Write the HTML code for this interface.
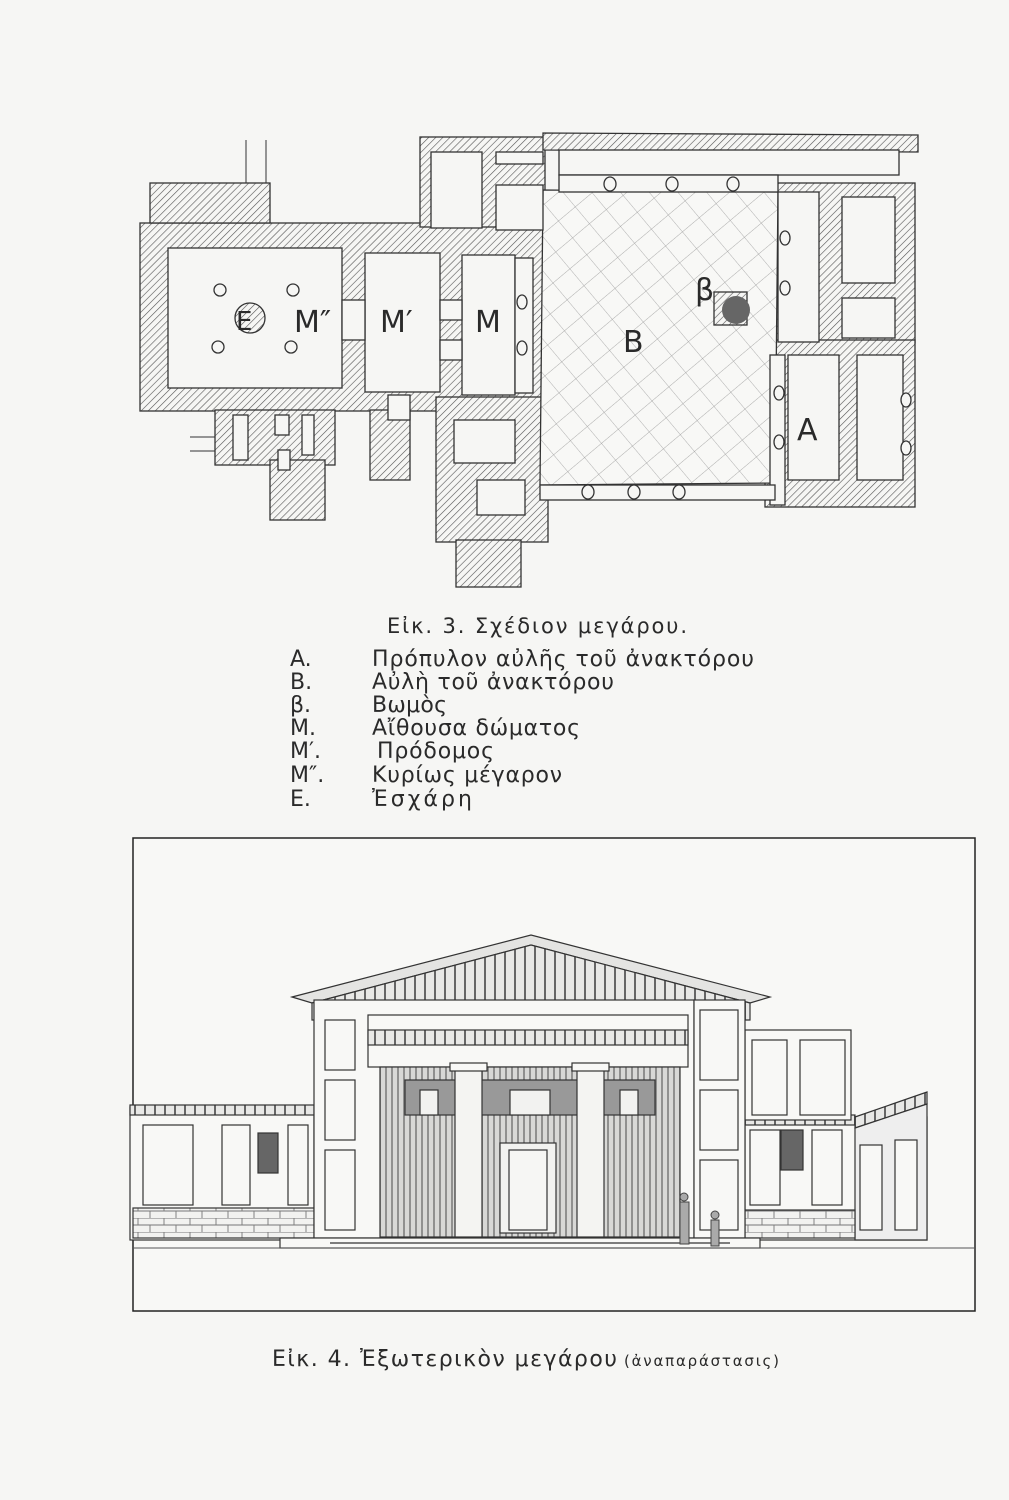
<!DOCTYPE html>
<html><head><meta charset="utf-8"><style>
html,body{margin:0;padding:0;background:#f6f6f4;}
svg{display:block}
text{font-family:"DejaVu Sans","Liberation Sans",sans-serif;fill:#2a2a2a}
</style></head><body>
<svg width="1009" height="1500" viewBox="0 0 1009 1500" xmlns="http://www.w3.org/2000/svg">
<defs>
<pattern id="h" width="5" height="5" patternUnits="userSpaceOnUse" patternTransform="rotate(45)">
<rect width="5" height="5" fill="#f6f6f4"/><line x1="0" y1="0" x2="0" y2="5" stroke="#555" stroke-width="1.2"/></pattern>
<pattern id="x" width="22" height="22" patternUnits="userSpaceOnUse" patternTransform="rotate(50)">
<rect width="22" height="22" fill="#f8f8f6"/><path d="M0 0H22M0 0V22" stroke="#999" stroke-width="0.8"/></pattern>
<pattern id="v" width="6" height="40" patternUnits="userSpaceOnUse">
<rect width="6" height="40" fill="#d8d8d6"/><line x1="2" y1="0" x2="2" y2="40" stroke="#777" stroke-width="1.5"/></pattern>
<pattern id="st" width="26" height="14" patternUnits="userSpaceOnUse">
<rect width="26" height="14" fill="#f2f2f0"/><path d="M0 0H26M0 7H26M8 0V7M20 7V14" stroke="#777" stroke-width="0.9"/></pattern>
<pattern id="r" width="10" height="10" patternUnits="userSpaceOnUse">
<rect width="10" height="10" fill="#e8e8e6"/><line x1="5" y1="0" x2="5" y2="10" stroke="#666" stroke-width="2"/></pattern>
</defs>
<rect width="1009" height="1500" fill="#f6f6f4"/>
<g stroke="#333" stroke-width="1.3">
<rect x="140" y="223" width="405" height="188" fill="url(#h)"/>
<rect x="150" y="183" width="120" height="40" fill="url(#h)"/>
<rect x="420" y="137" width="125" height="90" fill="url(#h)"/>
<polygon points="543,133 918,135 918,152 543,150" fill="url(#h)"/>
<rect x="775" y="183" width="140" height="160" fill="url(#h)"/>
<rect x="765" y="340" width="150" height="167" fill="url(#h)"/>
<rect x="436" y="397" width="112" height="145" fill="url(#h)"/>
<rect x="456" y="540" width="65" height="47" fill="url(#h)"/>
<rect x="215" y="410" width="120" height="55" fill="url(#h)"/>
<rect x="270" y="460" width="55" height="60" fill="url(#h)"/>
<rect x="370" y="410" width="40" height="70" fill="url(#h)"/>
<polygon points="543,190 778,192 775,483 540,485" fill="url(#x)"/>
<g fill="#f6f6f4">
<rect x="168" y="248" width="174" height="140"/>
<rect x="365" y="253" width="75" height="139"/>
<rect x="462" y="255" width="53" height="140"/>
<rect x="515" y="258" width="18" height="135"/>
<rect x="440" y="300" width="22" height="20"/>
<rect x="440" y="340" width="22" height="20"/>
<rect x="342" y="300" width="23" height="40"/>
<rect x="431" y="152" width="51" height="76"/>
<rect x="496" y="152" width="47" height="12"/>
<rect x="496" y="185" width="47" height="45"/>
<rect x="559" y="150" width="340" height="25"/>
<rect x="559" y="175" width="219" height="17"/>
<rect x="778" y="192" width="41" height="150"/>
<rect x="842" y="197" width="53" height="86"/>
<rect x="842" y="298" width="53" height="40"/>
<rect x="788" y="355" width="51" height="125"/>
<rect x="770" y="355" width="15" height="150"/>
<rect x="857" y="355" width="46" height="125"/>
<rect x="454" y="420" width="61" height="43"/>
<rect x="477" y="480" width="48" height="35"/>
<rect x="540" y="485" width="235" height="15"/>
<rect x="388" y="395" width="22" height="25"/>
<rect x="233" y="415" width="15" height="45"/>
<rect x="275" y="415" width="14" height="20"/>
<rect x="302" y="415" width="12" height="40"/>
<rect x="278" y="450" width="12" height="20"/>
</g>
<g fill="#f6f6f4">
<ellipse cx="610" cy="184" rx="6" ry="7"/><ellipse cx="672" cy="184" rx="6" ry="7"/><ellipse cx="733" cy="184" rx="6" ry="7"/>
<ellipse cx="588" cy="492" rx="6" ry="7"/><ellipse cx="634" cy="492" rx="6" ry="7"/><ellipse cx="679" cy="492" rx="6" ry="7"/>
<ellipse cx="785" cy="238" rx="5" ry="7"/><ellipse cx="785" cy="288" rx="5" ry="7"/>
<ellipse cx="779" cy="393" rx="5" ry="7"/><ellipse cx="779" cy="442" rx="5" ry="7"/>
<ellipse cx="906" cy="400" rx="5" ry="7"/><ellipse cx="906" cy="448" rx="5" ry="7"/>
<ellipse cx="522" cy="302" rx="5" ry="7"/><ellipse cx="522" cy="348" rx="5" ry="7"/>
<circle cx="220" cy="290" r="6"/><circle cx="293" cy="290" r="6"/><circle cx="218" cy="347" r="6"/><circle cx="291" cy="347" r="6"/>
<circle cx="250" cy="318" r="15" fill="url(#h)"/>
</g>
<rect x="714" y="292" width="33" height="33" fill="url(#h)"/>
<circle cx="736" cy="310" r="14" fill="#666" stroke="none"/>
</g>
<g font-size="30" fill="#333">
<text x="236" y="330" font-size="26">E</text>
<text x="294" y="332">M″</text>
<text x="380" y="332">M′</text>
<text x="475" y="332">M</text>
<text x="623" y="352">B</text>
<text x="797" y="440">A</text>
<text x="695" y="300">β</text>
</g>
<line x1="246" y1="140" x2="246" y2="183" stroke="#333"/><line x1="266" y1="140" x2="266" y2="183" stroke="#333"/>
<line x1="190" y1="437" x2="215" y2="437" stroke="#333"/><line x1="190" y1="451" x2="215" y2="451" stroke="#333"/>

<text x="387" y="633" font-size="21" textLength="300">Εἰκ. 3.  Σχέδιον μεγάρου.</text>
<g font-size="22">
<text x="290" y="666">A.</text><text x="372" y="666" textLength="382">Πρόπυλον αὐλῆς τοῦ ἀνακτόρου</text>
<text x="290" y="689">B.</text><text x="372" y="689" textLength="242">Αὐλὴ τοῦ ἀνακτόρου</text>
<text x="290" y="712">β.</text><text x="372" y="712" textLength="75">Βωμὸς</text>
<text x="290" y="735">M.</text><text x="372" y="735" textLength="208">Αἴθουσα δώματος</text>
<text x="290" y="758">M′.</text><text x="377" y="758" textLength="117">Πρόδομος</text>
<text x="290" y="782">M″.</text><text x="372" y="782" textLength="190">Κυρίως μέγαρον</text>
<text x="290" y="806">E.</text><text x="372" y="806" textLength="100">Ἐσχάρη</text>
</g>

<rect x="133" y="838" width="842" height="473" fill="#f8f8f6" stroke="#222" stroke-width="1.5"/>
<g stroke="#333" stroke-width="1.2" fill="#f8f8f6">
<rect x="130" y="1107" width="184" height="133"/>
<rect x="745" y="1117" width="182" height="123"/>
<rect x="130" y="1105" width="184" height="10" fill="url(#r)"/>
<rect x="745" y="1115" width="110" height="10" fill="url(#r)"/>
<polygon points="855,1117 927,1092 927,1104 855,1128" fill="url(#r)"/>
<polygon points="855,1128 927,1104 927,1240 855,1240" fill="#eee"/>
<rect x="860" y="1145" width="22" height="85"/><rect x="895" y="1140" width="22" height="90"/>
<rect x="133" y="1208" width="181" height="30" fill="url(#st)"/>
<rect x="745" y="1210" width="110" height="28" fill="url(#st)"/>
<rect x="745" y="1030" width="106" height="90"/>
<rect x="752" y="1040" width="35" height="75"/><rect x="800" y="1040" width="45" height="75"/>
<polygon points="292,997 531,935 770,997 750,1003 531,945 312,1003" fill="#e4e4e2"/>
<polygon points="312,1003 531,945 750,1003 750,1020 312,1020" fill="url(#r)"/>
<rect x="314" y="1000" width="380" height="238"/>
<rect x="694" y="1000" width="51" height="238"/>
<rect x="368" y="1015" width="320" height="52"/>
<rect x="368" y="1030" width="320" height="15" fill="url(#r)"/>
<rect x="380" y="1067" width="300" height="170" fill="url(#v)"/>
<rect x="405" y="1080" width="250" height="35" fill="#999"/>
<rect x="420" y="1090" width="18" height="25" fill="#f2f2f0"/><rect x="510" y="1090" width="40" height="25" fill="#f2f2f0"/><rect x="620" y="1090" width="18" height="25" fill="#f2f2f0"/>
<rect x="455" y="1067" width="27" height="170" fill="#f4f4f2"/>
<rect x="577" y="1067" width="27" height="170" fill="#f4f4f2"/>
<rect x="450" y="1063" width="37" height="8"/><rect x="572" y="1063" width="37" height="8"/>
<rect x="500" y="1143" width="56" height="90" fill="#f2f2f0"/>
<rect x="509" y="1150" width="38" height="80" fill="#f6f6f4"/>
<rect x="700" y="1010" width="38" height="70"/><rect x="700" y="1090" width="38" height="60"/><rect x="700" y="1160" width="38" height="70"/>
<rect x="325" y="1020" width="30" height="50"/><rect x="325" y="1080" width="30" height="60"/><rect x="325" y="1150" width="30" height="80"/>
<rect x="143" y="1125" width="50" height="80"/><rect x="222" y="1125" width="28" height="80"/><rect x="258" y="1133" width="20" height="40" fill="#666"/><rect x="288" y="1125" width="20" height="80"/>
<rect x="750" y="1130" width="30" height="75"/><rect x="781" y="1130" width="22" height="40" fill="#666"/><rect x="812" y="1130" width="30" height="75"/>
<rect x="280" y="1238" width="480" height="10"/>
<line x1="330" y1="1243" x2="730" y2="1243"/>
</g>
<g fill="#aaa" stroke="#444">
<rect x="680" y="1202" width="9" height="42"/><circle cx="684" cy="1197" r="4"/>
<rect x="711" y="1220" width="8" height="26"/><circle cx="715" cy="1215" r="4"/>
</g>
<line x1="133" y1="1248" x2="975" y2="1248" stroke="#555"/>

<text x="272" y="1366" font-size="22" textLength="345">Εἰκ. 4.  Ἐξωτερικὸν μεγάρου</text>
<text x="624" y="1366" font-size="15" textLength="155">(ἀναπαράστασις)</text>
</svg>
</body></html>
